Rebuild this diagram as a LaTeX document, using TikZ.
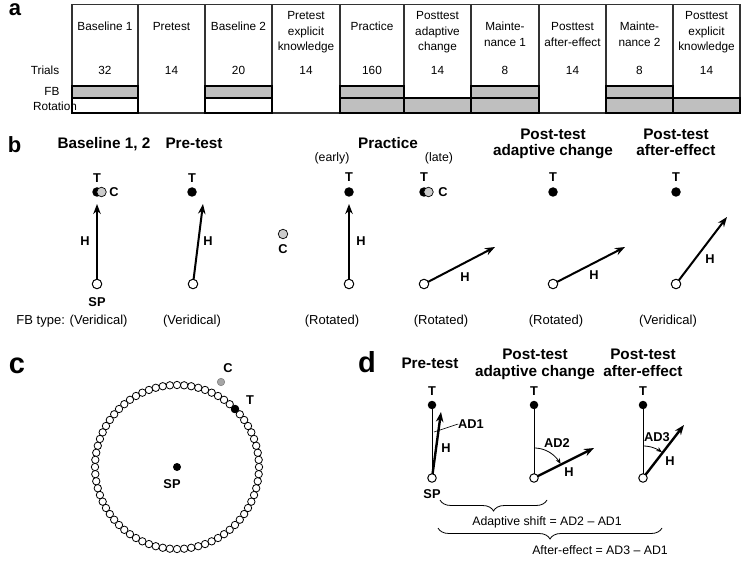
\documentclass[tikz,border=0pt]{standalone}
\usepackage{fontspec}
\setmainfont{Liberation Sans}
\usetikzlibrary{arrows.meta,decorations.pathreplacing}
\definecolor{bandgray}{HTML}{BFBFBF}
\definecolor{cgray}{HTML}{CCCCCC}
\definecolor{ringc}{HTML}{A6A6A6}
\definecolor{gridc}{HTML}{333333}
\begin{document}
\begin{tikzpicture}[x=1pt,y=-1pt,
 every node/.style={inner sep=0pt,outer sep=0pt},
 hd/.style={anchor=base,font=\fontsize{11.8}{14}\selectfont},
 ttl/.style={anchor=base,font=\fontsize{15.3}{18}\selectfont\bfseries},
 nrm/.style={anchor=base,font=\fontsize{12.3}{14}\selectfont},
 fbs/.style={anchor=base,font=\fontsize{13}{15}\selectfont},
 lab/.style={font=\fontsize{12.8}{15}\selectfont\bfseries},
 panel/.style={anchor=base west,font=\fontsize{22}{26}\selectfont\bfseries},
 bigpanel/.style={anchor=base west,font=\fontsize{29}{32}\selectfont\bfseries},
 tdot/.style={circle,fill=black,minimum size=9.5pt},
 cdot/.style={circle,draw=black,line width=0.7pt,fill=cgray,minimum size=9.5pt},
 spdot/.style={circle,draw=black,line width=1pt,fill=white,minimum size=9.5pt},
 tdotd/.style={circle,fill=black,minimum size=8.5pt},
 spdotd/.style={circle,draw=black,line width=1pt,fill=white,minimum size=8.5pt},
 harrow/.style={line width=2pt,-{Stealth[length=10pt,width=7.5pt]}},
 darrow/.style={line width=2.4pt,-{Stealth[length=10pt,width=7.5pt]}},
 thinline/.style={line width=1pt},
 arcarrow/.style={line width=0.8pt,-{Stealth[length=5.5pt,width=4.5pt]}},
 gridline/.style={draw=gridc,line width=1.1pt},
 cell/.style={draw=black,line width=1.4pt},
 bracestyle/.style={decorate,decoration={brace,mirror,amplitude=11pt},line width=0.8pt}]
\useasboundingbox (0,0) rectangle (741,561);
\fill[white] (0,0) rectangle (741,561);

% ---------- panel a ----------
\node[panel] (pa) at (9,16) {a};
\draw[gridline] (72,4.5) rectangle (740,113);
\foreach \xx in {138,205,272,340,404,471,539,606,673}
  \draw[gridline] (\xx,4.5) -- (\xx,113);
\foreach \l/\r in {72/138,205/272}
  \draw[cell,fill=white] (\l,98) rectangle (\r,113);
\foreach \l/\r in {72/138,205/272,340/404,471/539,606/673}
  \draw[cell,fill=bandgray] (\l,86) rectangle (\r,98);
\foreach \l/\r in {340/404,404/471,471/539,606/673,673/740}
  \draw[cell,fill=bandgray] (\l,98) rectangle (\r,113);

\node[hd] (h1) at (105,31) {Baseline 1};
\node[hd] (h2) at (171.5,31) {Pretest};
\node[hd] (h3) at (238.5,31) {Baseline 2};
\node[hd] (h4a) at (306,20) {Pretest};
\node[hd] (h4b) at (306,35.5) {explicit};
\node[hd] (h4c) at (306,51) {knowledge};
\node[hd] (h5) at (372,31) {Practice};
\node[hd] (h6a) at (437.5,20) {Posttest};
\node[hd] (h6b) at (437.5,35.5) {adaptive};
\node[hd] (h6c) at (437.5,51) {change};
\node[hd] (h7a) at (505,31) {Mainte-};
\node[hd] (h7b) at (505,46.5) {nance 1};
\node[hd] (h8a) at (572.5,31) {Posttest};
\node[hd] (h8b) at (572.5,46.5) {after-effect};
\node[hd] (h9a) at (639.5,31) {Mainte-};
\node[hd] (h9b) at (639.5,46.5) {nance 2};
\node[hd] (h10a) at (706.5,20) {Posttest};
\node[hd] (h10b) at (706.5,35.5) {explicit};
\node[hd] (h10c) at (706.5,51) {knowledge};

\node[hd] (trials) at (45,74.2) {Trials};
\node[hd] (fb) at (52,95.2) {FB};
\node[hd] (rot) at (55,111) {Rotation};
\foreach \i/\xx/\n in {1/105/32,2/171.5/14,3/238.5/20,4/306/14,5/372/160,6/437.5/14,7/505/8,8/572.5/14,9/639.5/8,10/706.5/14}
  \node[hd] (n\i) at (\xx,74.2) {\n};

% ---------- panel b ----------
\node[panel] (pb) at (8,153) {b};
\node[ttl] (tb1) at (104,148.5) {Baseline 1, 2};
\node[ttl] (tb2) at (194,148.5) {Pre-test};
\node[ttl] (tb3) at (388,148.5) {Practice};
\node[nrm] (early) at (332,161.5) {(early)};
\node[nrm] (late) at (439,161.5) {(late)};
\node[ttl] (tb5a) at (553,140) {Post-test};
\node[ttl] (tb5b) at (553,156) {adaptive change};
\node[ttl] (tb6a) at (676,140) {Post-test};
\node[ttl] (tb6b) at (676,156) {after-effect};

% baseline
\node[tdot] (T1) at (97,192) {};
\node[cdot] (C1) at (101.5,192) {};
\node[spdot] (S1) at (97,284) {};
\coordinate (E1) at (97,204);
\draw[harrow] (S1) -- (E1);
\node[lab] (lT1) at (97,178) {T};
\node[lab] (lC1) at (114,192) {C};
\node[lab] (lH1) at (85,241) {H};
\node[lab] (lS1) at (97,302) {SP};
% pre-test
\node[tdot] (T2) at (192,192) {};
\node[spdot] (S2) at (193,284) {};
\coordinate (E2) at (203,204);
\draw[harrow] (S2) -- (E2);
\node[lab] (lT2) at (192,178) {T};
\node[lab] (lH2) at (208,241) {H};
% practice early
\node[tdot] (T3) at (349,192) {};
\node[cdot] (C3) at (283,234) {};
\node[spdot] (S3) at (349,284) {};
\coordinate (E3) at (349,204);
\draw[harrow] (S3) -- (E3);
\node[lab] (lT3) at (349,177) {T};
\node[lab] (lC3) at (283,249) {C};
\node[lab] (lH3) at (361,241) {H};
% practice late
\node[tdot] (T4) at (424,192) {};
\node[cdot] (C4) at (428.5,192) {};
\node[spdot] (S4) at (424,284) {};
\coordinate (E4) at (495,247);
\draw[harrow] (S4) -- (E4);
\node[lab] (lT4) at (424,177) {T};
\node[lab] (lC4) at (443,192) {C};
\node[lab] (lH4) at (465,277) {H};
% post-test adaptive
\node[tdot] (T5) at (553,192) {};
\node[spdot] (S5) at (553,284) {};
\coordinate (E5) at (625,247);
\draw[harrow] (S5) -- (E5);
\node[lab] (lT5) at (553,177) {T};
\node[lab] (lH5) at (594,275) {H};
% post-test after-effect
\node[tdot] (T6) at (676,192) {};
\node[spdot] (S6) at (676,284) {};
\coordinate (E6) at (727,217);
\draw[harrow] (S6) -- (E6);
\node[lab] (lT6) at (676,177) {T};
\node[lab] (lH6) at (710,259) {H};

\node[fbs] (fbt1) at (72,324.5) {FB type: (Veridical)};
\node[fbs] (fbt2) at (192,324.5) {(Veridical)};
\node[fbs] (fbt3) at (332,324.5) {(Rotated)};
\node[fbs] (fbt4) at (441,324.5) {(Rotated)};
\node[fbs] (fbt5) at (556,324.5) {(Rotated)};
\node[fbs] (fbt6) at (668,324.5) {(Veridical)};

% ---------- panel c ----------
\node[bigpanel] (pc) at (9,373) {c};
\foreach \k in {0,...,71}
  \draw[line width=0.8pt,fill=white] ({177+82*cos(\k*5)},{467-82*sin(\k*5)}) circle[radius=3.7];
\node[circle,fill=black,draw=black,line width=0.8pt,minimum size=7.4pt] (cT) at ({177+82*cos(45)},{467-82*sin(45)}) {};
\node[circle,fill=ringc,draw=gray,line width=0.6pt,minimum size=7.4pt] (cC) at (221,382) {};
\node[circle,fill=black,minimum size=8pt] (cSP) at (177,467) {};
\node[lab] (lcT) at (250,400) {T};
\node[lab] (lcC) at (228,368) {C};
\node[lab] (lcS) at (172,484) {SP};

% ---------- panel d ----------
\node[bigpanel] (pd) at (358,372) {d};
\node[ttl] (td1) at (430,368.5) {Pre-test};
\node[ttl] (td2a) at (535,359) {Post-test};
\node[ttl] (td2b) at (535,376) {adaptive change};
\node[ttl] (td3a) at (643,359) {Post-test};
\node[ttl] (td3b) at (643,376) {after-effect};

% pre-test
\node[tdotd] (dT1) at (432,405) {};
\node[spdotd] (dS1) at (432,478) {};
\draw[thinline] (dS1) -- (dT1);
\coordinate (dE1) at (441,412);
\draw[darrow] (dS1) -- (dE1);
\node[lab] (ldT1) at (432,391) {T};
\node[lab] (AD1) at (471,424) {AD1};
\coordinate (lead1) at (434,432);
\draw[line width=0.6pt] (lead1) -- (AD1.west);
\node[lab] (ldH1) at (446,448) {H};
\node[lab] (ldS1) at (432,494) {SP};
% post-test adaptive
\node[tdotd] (dT2) at (534,405) {};
\node[spdotd] (dS2) at (534,478) {};
\draw[thinline] (dS2) -- (dT2);
\coordinate (dE2) at (594,448);
\draw[darrow] (dS2) -- (dE2);
\draw[arcarrow] plot[domain=90:28,samples=25] ({534+30*cos(\x)},{478-30*sin(\x)});
\node[lab] (ldT2) at (534,391) {T};
\node[lab] (AD2) at (557,443) {AD2};
\node[lab] (ldH2) at (569,472) {H};
% post-test after-effect
\node[tdotd] (dT3) at (643,405) {};
\node[spdotd] (dS3) at (643,478) {};
\draw[thinline] (dS3) -- (dT3);
\coordinate (dE3) at (684,425);
\draw[darrow] (dS3) -- (dE3);
\draw[arcarrow] plot[domain=90:54,samples=25] ({643+32*cos(\x)},{478-32*sin(\x)});
\node[lab] (ldT3) at (643,391) {T};
\node[lab] (AD3) at (657,437) {AD3};
\node[lab] (ldH3) at (670,461) {H};

% braces
\coordinate (b1l) at (440,500);
\coordinate (b1r) at (547,500);
\draw[bracestyle] (b1l) -- (b1r);
\node[nrm] (shift) at (547,525.5) {Adaptive shift = AD2 – AD1};
\coordinate (b2l) at (438,528);
\coordinate (b2r) at (662,528);
\draw[bracestyle] (b2l) -- (b2r);
\node[nrm] (after) at (600,554) {After-effect = AD3 – AD1};
\end{tikzpicture}
\end{document}
